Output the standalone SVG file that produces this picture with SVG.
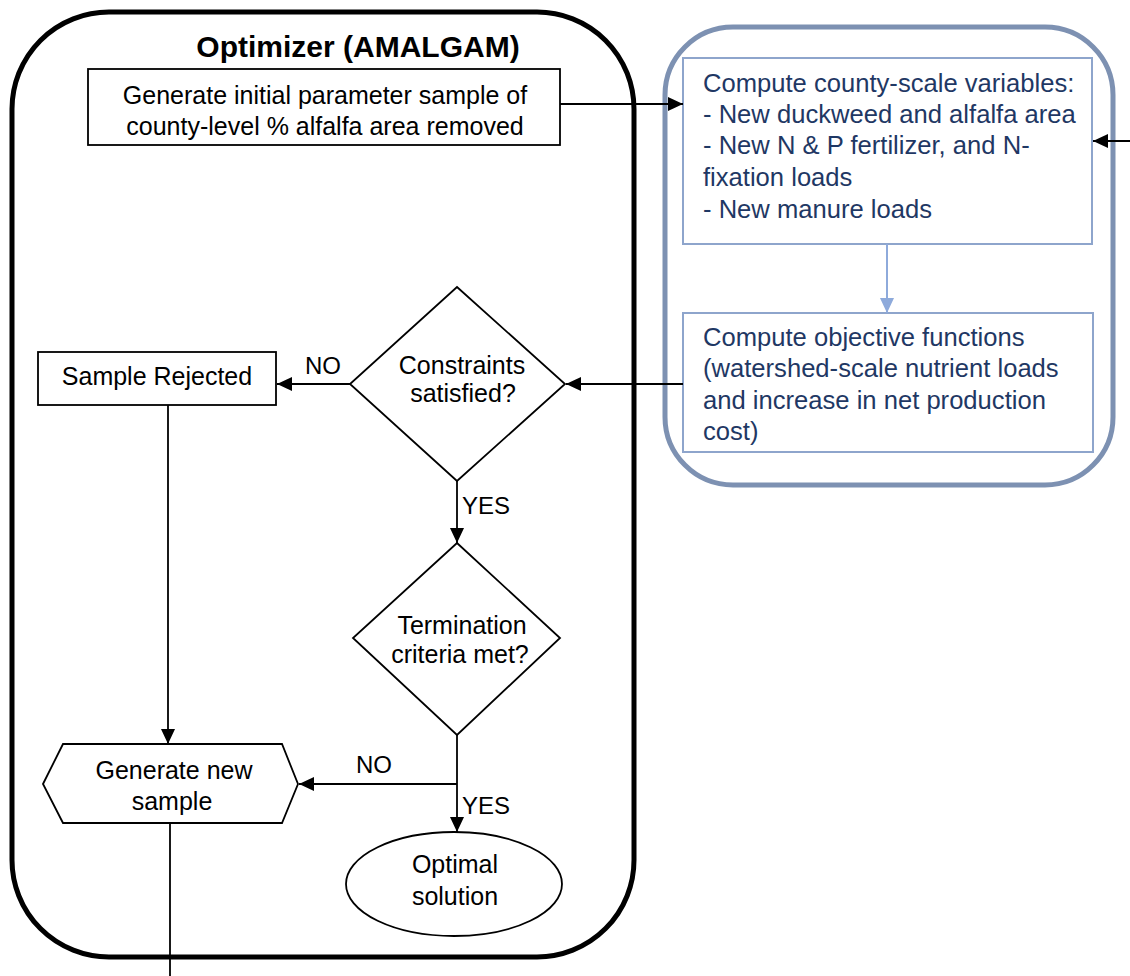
<svg xmlns="http://www.w3.org/2000/svg" width="1130" height="976" viewBox="0 0 1130 976">
<defs>
<marker id="ah" markerWidth="16" markerHeight="14" refX="15" refY="7" orient="auto" markerUnits="userSpaceOnUse">
<path d="M0,0 L15,7 L0,14 Z" fill="#000"/>
</marker>
<marker id="ahb" markerWidth="16" markerHeight="14" refX="15" refY="7" orient="auto" markerUnits="userSpaceOnUse">
<path d="M0,0 L15,7 L0,14 Z" fill="#8eaadb"/>
</marker>
</defs>
<style>
text{font-family:"Liberation Sans",Arial,sans-serif;font-size:25px;fill:#000}
.c{text-anchor:middle}
.lbl{font-size:24px}
.blue{fill:#1f3864;font-size:25.6px}
.node{fill:#fff;stroke:#000;stroke-width:1.8}
.bnode{fill:#fff;stroke:#8ea5cc;stroke-width:2}
.con{fill:none;stroke:#000;stroke-width:1.8}
</style>
<rect width="1130" height="976" fill="#fff"/>
<g id="optimizer">
<rect x="12" y="12" width="622" height="945" rx="97" ry="97" fill="none" stroke="#000" stroke-width="5"/>
<text x="358" y="57" class="c" style="font-weight:bold;font-size:30px">Optimizer (AMALGAM)</text>
</g>
<g id="model">
<rect x="665" y="27" width="448" height="458" rx="68" ry="68" fill="#fff" stroke="#7d91b2" stroke-width="5"/>
</g>
<g id="init">
<rect class="node" x="88" y="69" width="472" height="76"/>
<text x="325" y="104" class="c">Generate initial parameter sample of</text>
<text x="325" y="135" class="c">county-level % alfalfa area removed</text>
</g>
<g id="county">
<rect class="bnode" x="683" y="58" width="409" height="186"/>
<text x="703" y="92" class="blue">Compute county-scale variables:</text>
<text x="703" y="123" class="blue">- New duckweed and alfalfa area</text>
<text x="703" y="154" class="blue">- New N &amp; P fertilizer, and N-</text>
<text x="703" y="186" class="blue">fixation loads</text>
<text x="703" y="218" class="blue">- New manure loads</text>
</g>
<g id="objective">
<rect class="bnode" x="683" y="313" width="410" height="139"/>
<text x="703" y="346" class="blue">Compute objective functions</text>
<text x="703" y="377" class="blue">(watershed-scale nutrient loads</text>
<text x="703" y="409" class="blue">and increase in net production</text>
<text x="703" y="440" class="blue">cost)</text>
</g>
<g id="rejected">
<rect class="node" x="38" y="352" width="238" height="53"/>
<text x="157" y="385" class="c">Sample Rejected</text>
</g>
<g id="constraints">
<polygon class="node" points="457,287 565,384 457,481 350,384"/>
<text x="462" y="374" class="c">Constraints</text>
<text x="463" y="402" class="c">satisfied?</text>
</g>
<g id="termination">
<polygon class="node" points="457,543 560,638 457,735 353,638"/>
<text x="462" y="634" class="c">Termination</text>
<text x="460" y="663" class="c">criteria met?</text>
</g>
<g id="newsample">
<polygon class="node" points="43,784 63,744 282,744 298,784 282,823 63,823"/>
<text x="174" y="779" class="c">Generate new</text>
<text x="172" y="810" class="c">sample</text>
</g>
<g id="optimal">
<ellipse class="node" cx="454" cy="884" rx="108" ry="52"/>
<text x="455" y="873" class="c">Optimal</text>
<text x="455" y="905" class="c">solution</text>
</g>
<g id="connectors">
<line class="con" x1="560" y1="104" x2="683" y2="104" marker-end="url(#ah)"/>
<line x1="887" y1="244" x2="887" y2="313" stroke="#8eaadb" stroke-width="2" marker-end="url(#ahb)"/>
<line class="con" x1="1130" y1="141" x2="1093" y2="141" marker-end="url(#ah)"/>
<line class="con" x1="683" y1="384" x2="566" y2="384" marker-end="url(#ah)"/>
<line class="con" x1="350" y1="384" x2="277" y2="384" marker-end="url(#ah)"/>
<line class="con" x1="457" y1="481" x2="457" y2="543" marker-end="url(#ah)"/>
<line class="con" x1="168" y1="405" x2="168" y2="744" marker-end="url(#ah)"/>
<line class="con" x1="457" y1="735" x2="457" y2="832" marker-end="url(#ah)"/>
<line class="con" x1="457" y1="784" x2="299" y2="784" marker-end="url(#ah)"/>
<line class="con" x1="170" y1="823" x2="170" y2="976"/>
<text x="305" y="374" class="lbl">NO</text>
<text x="462" y="514" class="lbl">YES</text>
<text x="356" y="773" class="lbl">NO</text>
<text x="462" y="814" class="lbl">YES</text>
</g>
</svg>
